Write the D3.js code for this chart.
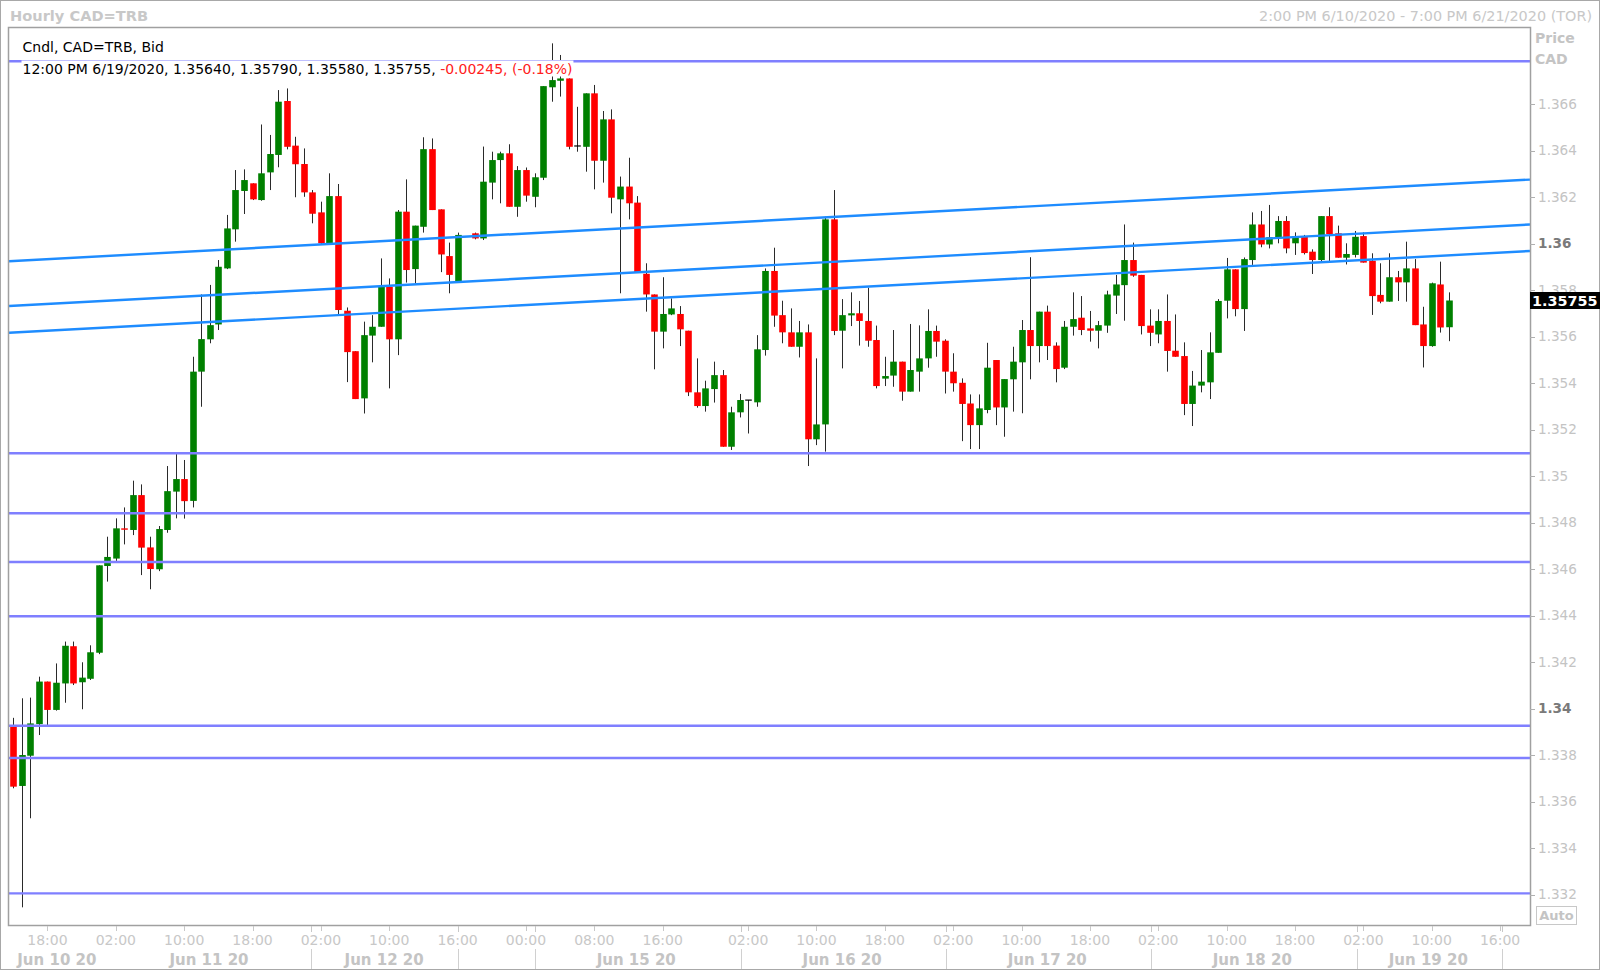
<!DOCTYPE html>
<html><head><meta charset="utf-8">
<script src="https://cdn.jsdelivr.net/npm/d3@7"></script>
<style>
html,body{margin:0;padding:0;background:#fff;}
svg{display:block;font-family:"DejaVu Sans",sans-serif;}
</style></head><body>
<svg id="chart" width="1600" height="972"></svg>
<script>
// ---------------- DATA ----------------
const slots = [0,1,2,3,4,5,6,7,8,9,10,11,12,13,14,15,16,17,18,19,20,21,22,23,24,25,26,27,28,29,30,31,32,33,34,35,36,37,38,39,40,41,42,43,44,45,46,47,48,49,50,51,52,
54,55,56,57,58,59,60,61,62,63,64,65,66,67,68,69,70,71,72,73,74,75,76,77,78,79,80,81,82,83,84,85,86,87,88,89,90,91,92,93,94,95,96,97,98,99,100,101,102,103,104,105,106,107,108,109,110,
111,112,113,114,115,116,117,118,119,120,121,122,123,124,125,126,127,128,129,130,131,132,133,134,135,136,137,138,139,140,141,142,143,144,145,146,147,148,149,150,151,152,153,154,155,156,157,158,159,160,161,162,163,164,165,166,167,168];
const opens = [1.33922,1.33667,1.33797,1.33933,1.34116,1.33994,1.34108,1.34268,1.34113,1.34128,1.34240,1.34613,1.34645,1.34775,1.34768,1.34918,1.34693,1.34599,1.34768,1.34933,1.34987,1.34893,1.35449,1.35588,1.35652,1.35893,1.36061,1.36226,1.36259,1.36187,1.36306,1.36381,1.36613,1.36421,1.36342,1.36220,1.36134,1.36001,1.36204,1.35711,1.35537,1.35334,1.35604,1.35642,1.35814,1.35588,1.36137,1.35890,1.36072,1.36406,1.36147,1.35946,1.35836,
1.36044,1.36022,1.36262,1.36359,1.36388,1.36158,1.36316,1.36201,1.36283,1.36672,1.36700,1.36710,1.36420,1.36416,1.36646,1.36356,1.36534,1.36190,1.36245,1.36176,1.35870,1.35781,1.35621,1.35695,1.35697,1.35625,1.35360,1.35301,1.35374,1.35434,1.35126,1.35274,1.35327,1.35317,1.35542,1.35882,1.35692,1.35618,1.35556,1.35618,1.35158,1.35222,1.36104,1.35625,1.35691,1.35700,1.35667,1.35585,1.35419,1.35432,1.35492,1.35363,1.35449,1.35506,1.35624,1.35582,1.35449,
1.35401,1.35312,1.35219,1.35284,1.35499,1.35295,1.35416,1.35489,1.35628,1.35559,1.35707,1.35561,1.35466,1.35642,1.35681,1.35635,1.35625,1.35647,1.35776,1.35821,1.35929,1.35865,1.35647,1.35609,1.35667,1.35539,1.35516,1.35310,1.35389,1.35403,1.35530,1.35754,1.35889,1.35718,1.35929,1.36082,1.35996,1.36022,1.36097,1.36001,1.36032,1.35965,1.35929,1.36118,1.36044,1.35939,1.35951,1.36032,1.35926,1.35779,1.35750,1.35855,1.35833,1.35893,1.35652,1.35559,1.35824,1.35640];
const highs = [1.33960,1.34044,1.34047,1.34137,1.34116,1.34194,1.34288,1.34288,1.34199,1.34272,1.34616,1.34739,1.34818,1.34865,1.34980,1.34964,1.34739,1.34785,1.35043,1.35097,1.35069,1.35513,1.35781,1.35822,1.35929,1.36123,1.36316,1.36319,1.36259,1.36512,1.36467,1.36660,1.36667,1.36459,1.36409,1.36230,1.36180,1.36302,1.36256,1.35725,1.35537,1.35664,1.35692,1.35936,1.35850,1.36144,1.36276,1.36077,1.36457,1.36452,1.36147,1.36004,1.36047,
1.36047,1.36417,1.36395,1.36395,1.36427,1.36333,1.36327,1.36302,1.36677,1.36861,1.36811,1.36710,1.36588,1.36646,1.36682,1.36570,1.36577,1.36288,1.36369,1.36204,1.35915,1.35781,1.35855,1.35764,1.35731,1.35625,1.35506,1.35410,1.35492,1.35456,1.35298,1.35353,1.35327,1.35606,1.35893,1.35982,1.35754,1.35721,1.35667,1.35652,1.35506,1.36115,1.36230,1.35761,1.35790,1.35753,1.35810,1.35647,1.35513,1.35628,1.35492,1.35654,1.35648,1.35717,1.35647,1.35588,1.35528,
1.35420,1.35351,1.35351,1.35573,1.35499,1.35417,1.35556,1.35671,1.35941,1.35707,1.35733,1.35575,1.35667,1.35790,1.35774,1.35710,1.35667,1.35797,1.35865,1.36082,1.36004,1.35865,1.35717,1.35717,1.35781,1.35695,1.35575,1.35452,1.35542,1.35618,1.35761,1.35938,1.35889,1.35940,1.36134,1.36140,1.36166,1.36118,1.36118,1.36048,1.36037,1.35975,1.36118,1.36156,1.36077,1.36001,1.36054,1.36048,1.35958,1.35915,1.35958,1.35882,1.36008,1.35933,1.35728,1.35832,1.35922,1.35790];
const lows = [1.33657,1.33145,1.33528,1.33886,1.33929,1.33991,1.34025,1.34101,1.33997,1.34123,1.34234,1.34546,1.34635,1.34706,1.34746,1.34574,1.34513,1.34591,1.34756,1.34818,1.34817,1.34865,1.35298,1.35571,1.35628,1.35890,1.36008,1.36127,1.36187,1.36184,1.36230,1.36328,1.36405,1.36199,1.36201,1.36087,1.35996,1.36001,1.35697,1.35404,1.35331,1.35269,1.35489,1.35642,1.35377,1.35520,1.35832,1.35829,1.36047,1.36144,1.35877,1.35786,1.35836,
1.36018,1.36015,1.36190,1.36173,1.36158,1.36115,1.36180,1.36156,1.36273,1.36610,1.36632,1.36405,1.36395,1.36309,1.36233,1.36262,1.36130,1.35786,1.36104,1.35875,1.35707,1.35459,1.35549,1.35692,1.35559,1.35344,1.35294,1.35277,1.35316,1.35126,1.35112,1.35252,1.35183,1.35298,1.35518,1.35642,1.35571,1.35556,1.35510,1.35043,1.35133,1.35105,1.35606,1.35463,1.35645,1.35561,1.35556,1.35377,1.35387,1.35384,1.35324,1.35363,1.35363,1.35466,1.35513,1.35355,1.35363,
1.35150,1.35116,1.35116,1.35270,1.35219,1.35169,1.35277,1.35270,1.35416,1.35489,1.35499,1.35403,1.35460,1.35604,1.35606,1.35578,1.35549,1.35616,1.35697,1.35668,1.35857,1.35609,1.35559,1.35571,1.35449,1.35513,1.35262,1.35215,1.35360,1.35331,1.35530,1.35678,1.35687,1.35624,1.35908,1.35984,1.35979,1.36001,1.35958,1.35951,1.35953,1.35869,1.35925,1.35925,1.35939,1.35910,1.35940,1.35918,1.35693,1.35743,1.35750,1.35753,1.35750,1.35649,1.35467,1.35556,1.35617,1.35580];
const closes = [1.33664,1.33800,1.33936,1.34116,1.33994,1.34111,1.34270,1.34108,1.34133,1.34242,1.34616,1.34652,1.34775,1.34769,1.34918,1.34692,1.34600,1.34772,1.34935,1.34987,1.34892,1.35449,1.35589,1.35649,1.35900,1.36065,1.36230,1.36273,1.36190,1.36302,1.36385,1.36610,1.36416,1.36341,1.36220,1.36128,1.36001,1.36204,1.35714,1.35533,1.35331,1.35606,1.35642,1.35814,1.35588,1.36137,1.35886,1.36077,1.36406,1.36144,1.35953,1.35865,1.36037,
1.36022,1.36266,1.36359,1.36388,1.36158,1.36316,1.36206,1.36285,1.36677,1.36703,1.36710,1.36416,1.36420,1.36646,1.36356,1.36534,1.36197,1.36245,1.36173,1.35875,1.35781,1.35621,1.35697,1.35721,1.35631,1.35360,1.35301,1.35377,1.35434,1.35126,1.35274,1.35327,1.35327,1.35545,1.35882,1.35690,1.35618,1.35556,1.35618,1.35158,1.35222,1.36104,1.35624,1.35692,1.35700,1.35667,1.35582,1.35387,1.35430,1.35492,1.35363,1.35456,1.35506,1.35624,1.35578,1.35449,1.35399,
1.35310,1.35219,1.35291,1.35466,1.35295,1.35417,1.35492,1.35628,1.35559,1.35707,1.35559,1.35460,1.35642,1.35675,1.35628,1.35625,1.35649,1.35781,1.35824,1.35929,1.35862,1.35645,1.35616,1.35667,1.35538,1.35513,1.35310,1.35389,1.35406,1.35532,1.35753,1.35889,1.35718,1.35933,1.36082,1.35996,1.36027,1.36097,1.35979,1.36032,1.35959,1.35929,1.36118,1.36041,1.35939,1.35955,1.36029,1.35918,1.35774,1.35750,1.35855,1.35833,1.35893,1.35649,1.35559,1.35829,1.35639,1.35755];

const hLevels = [1.36784, 1.35098, 1.34840, 1.34630, 1.34397, 1.33926, 1.33787, 1.33205];
const trendStart = [1.35924, 1.35731, 1.35616];   // price at left edge of plot
const trendEnd   = [1.36275, 1.36082, 1.35968];   // price at right edge of plot
const yTicks = [1.332,1.334,1.336,1.338,1.340,1.342,1.344,1.346,1.348,1.350,1.352,1.354,1.356,1.358,1.360,1.362,1.364,1.366];
const timeTickSlots  = [4,12,20,28,36,44,52,60,68,76,86,94,102,110,118,126,134,142,150,158,166,174];
const timeTickLabels = ["18:00","02:00","10:00","18:00","02:00","10:00","16:00","00:00","08:00","16:00","02:00","10:00","18:00","02:00","10:00","18:00","02:00","10:00","18:00","02:00","10:00","16:00"];
const dayLabels     = ["Jun 10 20","Jun 11 20","Jun 12 20","Jun 15 20","Jun 16 20","Jun 17 20","Jun 18 20","Jun 19 20"];
const dayLabelSlots = [5.1, 22.9, 43.4, 72.9, 97.0, 121.0, 145.0, 165.6];
const daySepSlots   = [34.9, 52.0, 61.0, 85.2, 109.2, 133.2, 157.2, 174.2];
const titleText = "Hourly CAD=TRB";
const rangeText = "2:00 PM 6/10/2020 - 7:00 PM 6/21/2020 (TOR)";
const legendLine1 = "Cndl, CAD=TRB, Bid";
const legendTime = "12:00 PM 6/19/2020";
const legendChange = "-0.00245, (-0.18%)";
const lastPrice = 1.35755;

// ---------------- LAYOUT ----------------
const W = 1600, H = 972;
const plot = {x0: 9, x1: 1530, y0: 28, y1: 925};
const svg = d3.select("#chart");

const x = d3.scaleLinear().domain([-0.5, 177.5]).range([plot.x0, plot.x1]);
const y = d3.scaleLinear().domain([1.33069, 1.36927]).range([plot.y1, plot.y0]);

const candles = slots.map((s, i) => ({s, o: opens[i], h: highs[i], l: lows[i], c: closes[i]}));

// outer frame
svg.append("rect").attr("x", 0.5).attr("y", 0.5).attr("width", W - 1).attr("height", 969)
  .attr("fill", "#fff").attr("stroke", "#a8a8a8").attr("stroke-width", 1);

// title texts
svg.append("text").attr("x", 10).attr("y", 21).attr("font-size", 14.6).attr("font-weight", "bold")
  .attr("fill", "#c8c8c8").text(titleText);
svg.append("text").attr("x", 1592).attr("y", 21).attr("font-size", 14.4).attr("text-anchor", "end")
  .attr("fill", "#c8c8c8").text(rangeText);

// plot frame background
svg.append("rect").attr("x", plot.x0).attr("y", plot.y0)
  .attr("width", plot.x1 - plot.x0).attr("height", plot.y1 - plot.y0)
  .attr("fill", "#fff");

const clip = svg.append("clipPath").attr("id", "plotclip").append("rect")
  .attr("x", plot.x0).attr("y", plot.y0).attr("width", plot.x1 - plot.x0).attr("height", plot.y1 - plot.y0);

const g = svg.append("g").attr("clip-path", "url(#plotclip)");

const bodyW = 6.6;
// wicks
g.append("g").selectAll("line").data(candles).join("line")
  .attr("x1", d => Math.round(x(d.s)) + 0.5).attr("x2", d => Math.round(x(d.s)) + 0.5)
  .attr("y1", d => y(d.h)).attr("y2", d => y(d.l))
  .attr("stroke", "#2a2a2a").attr("stroke-width", 1);

// bodies
g.append("g").selectAll("rect").data(candles).join("rect")
  .attr("x", d => Math.round(x(d.s)) + 0.5 - bodyW / 2)
  .attr("width", bodyW)
  .attr("y", d => d.c === d.o ? y(d.o) - 0.5 : y(Math.max(d.o, d.c)))
  .attr("height", d => d.c === d.o ? 1.2 : Math.max(1.2, Math.abs(y(d.o) - y(d.c))))
  .attr("fill", d => d.c > d.o ? "#008000" : (d.c < d.o ? "#ff0000" : "#000"));

// horizontal levels
g.append("g").selectAll("line").data(hLevels).join("line")
  .attr("x1", plot.x0).attr("x2", plot.x1)
  .attr("y1", d => y(d)).attr("y2", d => y(d))
  .attr("stroke", "#7f7fff").attr("stroke-width", 2.4);

// trend lines
g.append("g").selectAll("line").data(trendStart).join("line")
  .attr("x1", x(-0.5)).attr("x2", x(177.5))
  .attr("y1", d => y(d)).attr("y2", (d, i) => y(trendEnd[i]))
  .attr("stroke", "#1e8cff").attr("stroke-width", 2.4);

// legend
const last = candles[candles.length - 1];
const f5 = d3.format(".5f");
const leg = svg.append("g");
const l1bg = leg.append("rect").attr("fill", "#fff");
const l2bg = leg.append("rect").attr("fill", "#fff");
const t1 = leg.append("text").attr("x", 22.5).attr("y", 52).attr("font-size", 14).attr("fill", "#000").text(legendLine1);
const t2 = leg.append("text").attr("x", 22.5).attr("y", 73.5).attr("font-size", 14).attr("fill", "#000");
t2.append("tspan").text(`${legendTime}, ${f5(last.o)}, ${f5(last.h)}, ${f5(last.l)}, ${f5(last.c)}, `);
t2.append("tspan").attr("fill", "#ff2020").text(legendChange);
const b1 = t1.node().getBBox(), b2 = t2.node().getBBox();
l1bg.attr("x", b1.x - 1).attr("y", b1.y).attr("width", b1.width + 2).attr("height", b1.height);
l2bg.attr("x", b2.x - 1).attr("y", b2.y).attr("width", b2.width + 2).attr("height", b2.height);

// plot frame border
svg.append("rect").attr("x", plot.x0 - 0.5).attr("y", plot.y0 - 0.5)
  .attr("width", plot.x1 - plot.x0 + 1).attr("height", plot.y1 - plot.y0 + 1)
  .attr("fill", "none").attr("stroke", "#a0a0a0").attr("stroke-width", 1.5);

// right axis
const ra = svg.append("g");
ra.append("text").attr("x", 1535).attr("y", 43).attr("font-size", 14).attr("font-weight", "bold").attr("fill", "#c4c4c4").text("Price");
ra.append("text").attr("x", 1535).attr("y", 64).attr("font-size", 14).attr("font-weight", "bold").attr("fill", "#c4c4c4").text("CAD");
const isMajor = v => Math.round(v * 1000) % 20 === 0;
ra.selectAll("line.tk").data(yTicks).join("line").attr("class", "tk")
  .attr("x1", plot.x1).attr("x2", plot.x1 + 5)
  .attr("y1", d => Math.round(y(d)) + 0.5).attr("y2", d => Math.round(y(d)) + 0.5)
  .attr("stroke", "#b0b0b0");
ra.selectAll("text.tl").data(yTicks).join("text").attr("class", "tl")
  .attr("x", 1538).attr("y", d => y(d)).attr("dy", "0.36em")
  .attr("font-size", 13.6)
  .attr("font-weight", d => isMajor(d) ? "bold" : "normal")
  .attr("fill", d => isMajor(d) ? "#7a7a7a" : "#c4c4c4")
  .text(d => String(+d.toFixed(3)));

// last price label
ra.append("rect").attr("x", plot.x1).attr("y", y(lastPrice) - 8.5).attr("width", W - plot.x1).attr("height", 17).attr("fill", "#000");
ra.append("text").attr("x", 1532).attr("y", y(lastPrice)).attr("dy", "0.36em")
  .attr("font-size", 14.4).attr("font-weight", "bold").attr("fill", "#fff").text(f5(lastPrice));

// Auto button
ra.append("rect").attr("x", 1536.5).attr("y", 906.5).attr("width", 40).attr("height", 18)
  .attr("fill", "#fff").attr("stroke", "#c8c8c8");
ra.append("text").attr("x", 1556.5).attr("y", 920).attr("text-anchor", "middle")
  .attr("font-size", 13).attr("font-weight", "bold").attr("fill", "#c4c4c4").text("Auto");

// bottom axis
const ba = svg.append("g");
ba.selectAll("line.tt").data(timeTickSlots).join("line").attr("class", "tt")
  .attr("x1", d => Math.round(x(d)) + 0.5).attr("x2", d => Math.round(x(d)) + 0.5)
  .attr("y1", plot.y1 + 1).attr("y2", plot.y1 + 6).attr("stroke", "#c8c8c8");
ba.selectAll("text.tt").data(timeTickSlots).join("text").attr("class", "tt")
  .attr("x", d => x(d)).attr("y", 945).attr("text-anchor", "middle")
  .attr("font-size", 14).attr("fill", "#c8c8c8")
  .text((d, i) => timeTickLabels[i]);
ba.selectAll("line.ds").data(daySepSlots).join("line").attr("class", "ds")
  .attr("x1", d => Math.round(x(d)) + 0.5).attr("x2", d => Math.round(x(d)) + 0.5)
  .attr("y1", 949).attr("y2", 969).attr("stroke", "#d0d0d0");
ba.selectAll("line.dt").data(daySepSlots).join("line").attr("class", "dt")
  .attr("x1", d => Math.round(x(d)) + 0.5).attr("x2", d => Math.round(x(d)) + 0.5)
  .attr("y1", plot.y1 + 1).attr("y2", plot.y1 + 7).attr("stroke", "#c8c8c8");
ba.selectAll("text.dl").data(dayLabelSlots).join("text").attr("class", "dl")
  .attr("x", d => x(d)).attr("y", 965).attr("text-anchor", "middle")
  .attr("font-size", 15).attr("font-weight", "bold").attr("fill", "#c4c4c4")
  .text((d, i) => dayLabels[i]);
</script>
</body></html>
